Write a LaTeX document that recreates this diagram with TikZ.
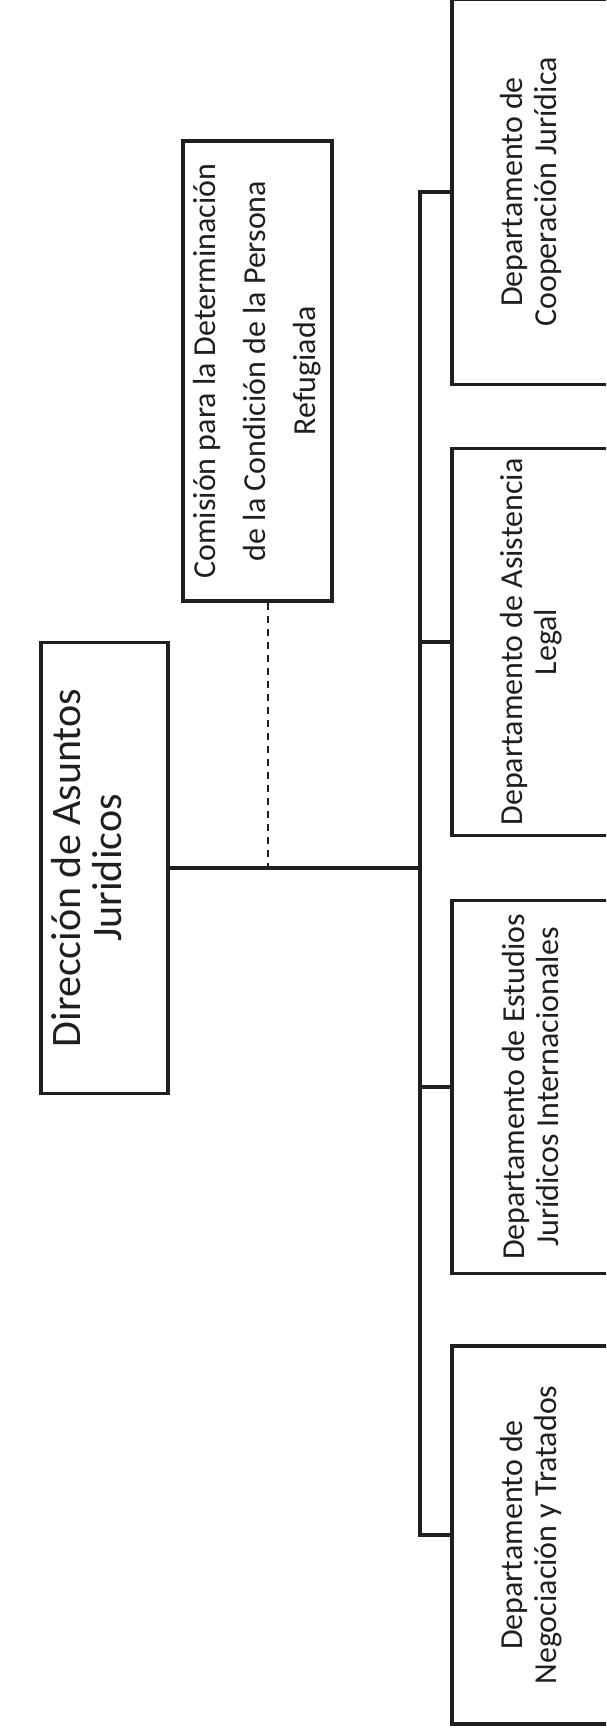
\documentclass[tikz,border=0pt]{standalone}
\usepackage{fontspec}
\setmainfont{Carlito}
\definecolor{ink}{RGB}{30,30,35}
\begin{document}
\begin{tikzpicture}[x=1pt,y=-1pt,
  box/.style={draw=ink, line width=3.5pt, rotate=90, inner sep=0pt, align=center, text=ink},
  dept/.style={box, line width=3.2pt, minimum height=158pt, font=\fontsize{32}{34}\selectfont},
  conn/.style={draw=ink, line width=3.2pt},
  dashconn/.style={draw=ink, line width=2pt, dash pattern=on 7pt off 6pt}]
\useasboundingbox (0,0) rectangle (606,1730);
\clip (0,0) rectangle (606,1730);
\node[box, minimum width=451pt, minimum height=127pt, font=\fontsize{42}{41}\selectfont] (main) at (104.5,868) {Dirección de Asuntos\\Juridicos\\[-5pt]\mbox{}};
\node[box, line width=3.2pt, minimum width=460pt, minimum height=149pt, font=\fontsize{32}{50}\selectfont] (com) at (257.5,371) {Comisión para la Determinación\\de la Condición de la Persona\\Refugiada};
\node[dept, minimum width=385pt] (coop) at (531,192) {Departamento de\\Cooperación Jurídica};
\node[dept, minimum width=387pt] (asis) at (531,642) {Departamento de Asistencia\\Legal};
\node[dept, minimum width=373pt] (estu) at (531,1087) {Departamento de Estudios\\Jurídicos Internacionales};
\node[dept, minimum width=378pt] (nego) at (531,1535) {Departamento de\\Negociación y Tratados};
\coordinate (bus) at (420,0);
\draw[conn] (main.south) -- (bus |- main.south);
\draw[conn] (coop.north) -- (bus |- coop.north) -- (bus |- nego.north) -- (nego.north);
\foreach \d in {asis,estu}
  \draw[conn] (bus |- \d.north) -- (\d.north);
\draw[dashconn] ([xshift=10.5pt]com.west) -- ([xshift=10.5pt]com.west |- main.south);
\end{tikzpicture}
\end{document}
